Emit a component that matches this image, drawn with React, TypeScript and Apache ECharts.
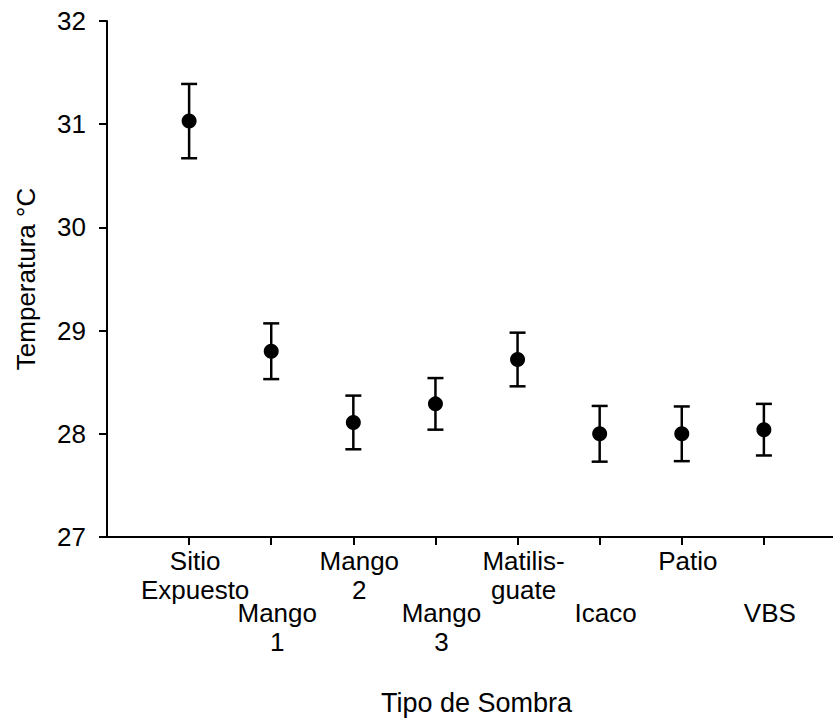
import React, { useEffect, useRef } from "react";
import * as echarts from "echarts";

const categories = ["Sitio\nExpuesto", "Mango\n1", "Mango\n2", "Mango\n3", "Matilis-\nguate", "Icaco", "Patio", "VBS"];
const means = [31.03, 28.8, 28.11, 28.29, 28.72, 28.0, 28.0, 28.04];
const errors = [0.36, 0.27, 0.26, 0.25, 0.26, 0.27, 0.265, 0.25];
const yTicks = [27, 28, 29, 30, 31, 32];
const upperIdx = [0, 2, 4, 6];
const lowerIdx = [1, 3, 5, 7];

const FONT = "Liberation Sans, Arial, sans-serif";

export default function App() {
  const ref = useRef<HTMLDivElement>(null);
  useEffect(() => {
    if (!ref.current) return;
    const chart = echarts.init(ref.current, undefined, { renderer: "svg" });
    const axisData = ["pad0", ...categories, "pad9"];
    const labelFor = (set: number[]) => (_v: string, i: number) => {
      const k = i - 1;
      return set.includes(k) ? categories[k] : "";
    };
    const baseLabel = {
      interval: 0,
      color: "#000",
      fontFamily: FONT,
      fontSize: 26,
      lineHeight: 29,
      padding: [0, 0, 0, 12],
    };
    chart.setOption({
      animation: false,
      backgroundColor: "#fff",
      grid: {
        left: 107,
        top: 21,
        width: 739,
        height: 516,
        containLabel: false,
        outerBoundsMode: "none",
      },
      xAxis: [
        {
          type: "category",
          data: axisData,
          boundaryGap: false,
          position: "bottom",
          axisLine: { show: true, lineStyle: { color: "#000", width: 2 } },
          axisTick: {
            show: true,
            length: 8,
            interval: (i: number) => i >= 1 && i <= categories.length,
            lineStyle: { color: "#000", width: 2 },
          },
          axisLabel: { ...baseLabel, margin: 9, formatter: labelFor(upperIdx) },
          splitLine: { show: false },
          name: "Tipo de Sombra",
          nameLocation: "middle",
          nameGap: 152,
          nameTextStyle: { color: "#000", fontFamily: FONT, fontSize: 27, padding: [0, 0, 0, 0] },
        },
        {
          type: "category",
          data: axisData,
          boundaryGap: false,
          position: "bottom",
          offset: 52,
          axisLine: { show: false },
          axisTick: { show: false },
          axisLabel: { ...baseLabel, margin: 9, formatter: labelFor(lowerIdx) },
          splitLine: { show: false },
        },
      ],
      yAxis: {
        type: "value",
        min: yTicks[0],
        max: yTicks[yTicks.length - 1],
        interval: 1,
        axisLine: { show: true, lineStyle: { color: "#000", width: 2 } },
        axisTick: { show: true, length: 8, lineStyle: { color: "#000", width: 2 } },
        axisLabel: { color: "#000", fontFamily: FONT, fontSize: 26, margin: 21 },
        splitLine: { show: false },
        name: "Temperatura °C",
        nameLocation: "middle",
        nameGap: 68,
        nameTextStyle: { color: "#000", fontFamily: FONT, fontSize: 26 },
      },
      series: [
        {
          type: "custom",
          xAxisIndex: 0,
          data: means.map((m, i) => [i + 1, m, errors[i]]),
          renderItem: (_params: any, api: any) => {
            const x = api.value(0);
            const m = api.value(1);
            const e = api.value(2);
            const top = api.coord([x, m + e]);
            const bot = api.coord([x, m - e]);
            const hw = 8;
            const style = { stroke: "#000", lineWidth: 2.5 };
            return {
              type: "group",
              children: [
                { type: "line", shape: { x1: top[0], y1: top[1], x2: bot[0], y2: bot[1] }, style },
                { type: "line", shape: { x1: top[0] - hw, y1: top[1], x2: top[0] + hw, y2: top[1] }, style },
                { type: "line", shape: { x1: bot[0] - hw, y1: bot[1], x2: bot[0] + hw, y2: bot[1] }, style },
              ],
            };
          },
          z: 2,
        },
        {
          type: "scatter",
          xAxisIndex: 0,
          data: means.map((m, i) => [i + 1, m]),
          symbol: "circle",
          symbolSize: 15,
          itemStyle: { color: "#000", opacity: 1 },
          z: 3,
        },
      ],
    });
    return () => chart.dispose();
  }, []);
  return <div ref={ref} style={{ width: 833, height: 721, position: "absolute", left: 0, top: 0, overflow: "hidden" }} />;
}
